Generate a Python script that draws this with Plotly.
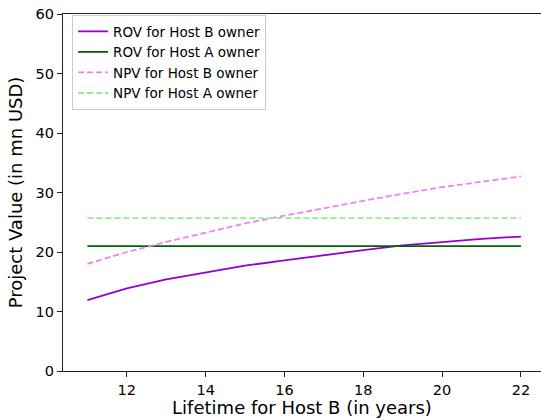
import plotly.graph_objects as go

years = [11, 12, 13, 14, 15, 16, 17, 18, 19, 20, 21, 22]
rov_host_b = [11.9, 13.9, 15.4, 16.6, 17.7, 18.6, 19.5, 20.3, 21.1, 21.7, 22.2, 22.6]
rov_host_a = [21.0] * len(years)
npv_host_b = [18.0, 20.0, 21.7, 23.3, 24.8, 26.1, 27.4, 28.6, 29.8, 30.9, 31.8, 32.7]
npv_host_a = [25.7] * len(years)

x_ticks = [12, 14, 16, 18, 20, 22]
y_ticks = [0, 10, 20, 30, 40, 50, 60]

fig = go.Figure()
fig.add_trace(go.Scatter(x=years, y=rov_host_b, mode="lines", name="ROV for Host B owner",
                         line=dict(color="#9400D3", width=1.8)))
fig.add_trace(go.Scatter(x=years, y=rov_host_a, mode="lines", name="ROV for Host A owner",
                         line=dict(color="#006400", width=1.8)))
fig.add_trace(go.Scatter(x=years, y=npv_host_b, mode="lines", name="NPV for Host B owner",
                         line=dict(color="#EE82EE", width=1.8, dash="6px,3px")))
fig.add_trace(go.Scatter(x=years, y=npv_host_a, mode="lines", name="NPV for Host A owner",
                         line=dict(color="#90EE90", width=1.8, dash="6px,3px")))

font_family = "DejaVu Sans"
fig.update_layout(
    width=541, height=418,
    margin=dict(l=63, r=0, t=14, b=47),
    paper_bgcolor="white", plot_bgcolor="white",
    font=dict(family=font_family, color="black"),
    showlegend=True,
    legend=dict(x=0.019, y=0.997, xanchor="left", yanchor="top",
                bgcolor="rgba(255,255,255,0.8)", bordercolor="#cccccc", borderwidth=1,
                font=dict(size=13.5, family=font_family), tracegroupgap=0,
                itemwidth=30),
    xaxis=dict(range=[10.38, 22.51], tickvals=x_ticks, showgrid=False, zeroline=False,
               showline=True, linecolor="#222", linewidth=1.2, mirror=True,
               ticks="outside", ticklen=5, tickcolor="#222", tickfont=dict(size=14.5),
               title=dict(text="Lifetime for Host B (in years)", font=dict(size=18), standoff=5)),
    yaxis=dict(range=[0, 60], tickvals=y_ticks, showgrid=False, zeroline=False,
               showline=True, linecolor="#222", linewidth=1.2,
               ticks="outside", ticklen=5, tickcolor="#222", tickfont=dict(size=14.5),
               title=dict(text="Project Value (in mn USD)", font=dict(size=18), standoff=8)),
)

fig.write_html("out.html")
